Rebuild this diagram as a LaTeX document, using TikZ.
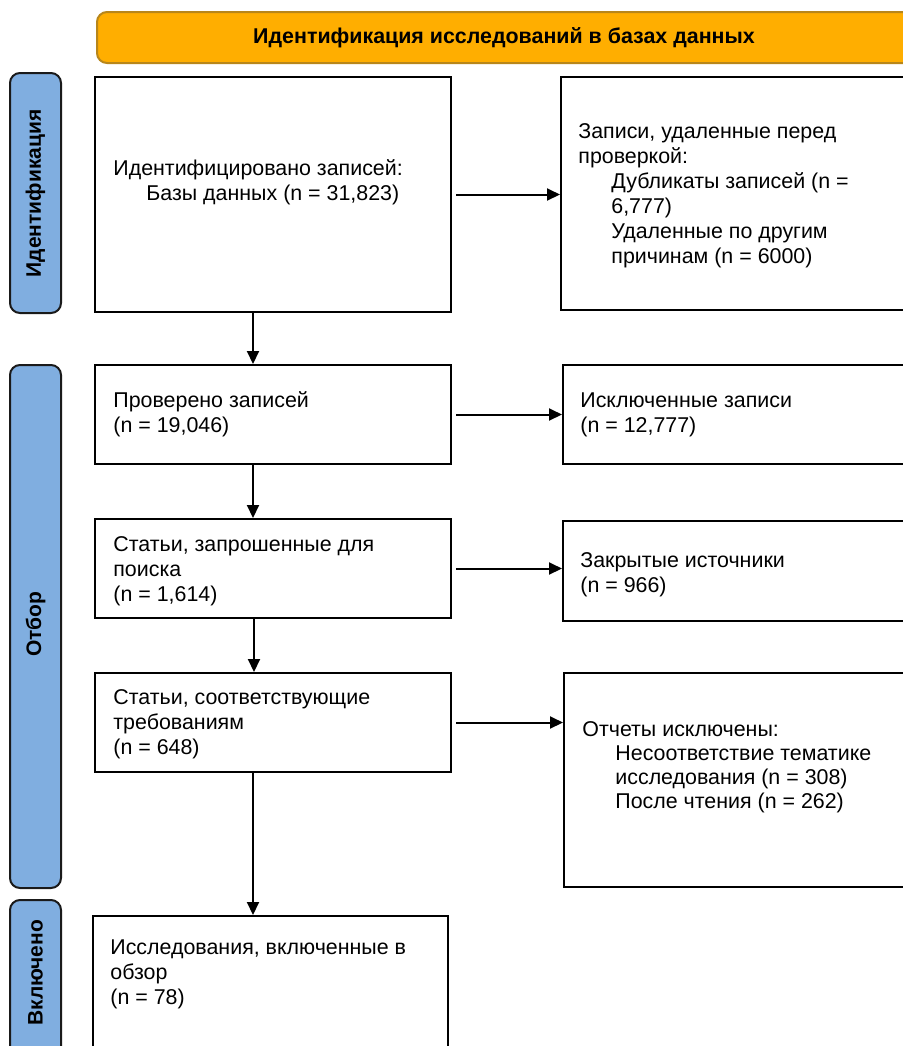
\documentclass[tikz,border=0pt]{standalone}
\usepackage{fontspec}
\setmainfont{Liberation Sans}
\usetikzlibrary{arrows.meta}
\definecolor{banfill}{HTML}{FFAE00}
\definecolor{bandraw}{HTML}{B8861A}
\definecolor{labfill}{HTML}{80AEE0}
\definecolor{labdraw}{HTML}{1A1A1A}
\tikzset{
  box/.style={draw=black, line width=1pt, fill=white, inner sep=0pt, rectangle},
  phase/.style={draw=labdraw, line width=1pt, fill=labfill, rounded corners=5pt, inner sep=0pt, rectangle},
  banner/.style={draw=bandraw, line width=1pt, fill=banfill, rounded corners=5pt, inner sep=0pt, rectangle},
  txt/.style={inner sep=0pt, align=left, anchor=north west, font={\fontsize{10.7}{12.5}\selectfont}},
  phasetxt/.style={inner sep=0pt, rotate=90, font={\fontsize{10.5}{12.5}\selectfont\bfseries}},
  titletxt/.style={inner sep=0pt, font={\fontsize{10.7}{12.5}\selectfont\bfseries}},
  arr/.style={line width=1pt, -{Triangle[length=6.5pt,width=6pt]}}
}
\newcommand\ind{\hspace*{16.5pt}}
\begin{document}
\begin{tikzpicture}[x=0.5pt,y=-0.5pt]
\useasboundingbox (0,0) rectangle (903,1046);
\clip (0,0) rectangle (903,1046);
\fill[white] (0,0) rectangle (903,1046);
% banner
\node[banner, minimum width=409pt, minimum height=25.5pt] (ban) at (506,37.5) {};
\node[titletxt] (title) at (504,37.5) {Идентификация исследований в базах данных};
% phase labels
\node[phase, minimum width=25.5pt, minimum height=120pt] (L1) at (35.5,193) {};
\node[phasetxt] (L1t) at (35.5,193.5) {Идентификация};
\node[phase, minimum width=25.5pt, minimum height=261.5pt] (L2) at (35.5,626.5) {};
\node[phasetxt] (L2t) at (35.5,624) {Отбор};
\node[phase, minimum width=25.5pt, minimum height=85pt] (L3) at (35.5,985) {};
\node[phasetxt] (L3t) at (35.5,973) {Включено};
% boxes
\node[box, minimum width=178pt, minimum height=117.5pt] (b1) at (273,194.5) {};
\node[box, minimum width=177pt, minimum height=116.5pt] (b2) at (738,193.5) {};
\node[box, minimum width=178pt, minimum height=49.5pt] (b3) at (273,414.5) {};
\node[box, minimum width=176pt, minimum height=49.5pt] (b4) at (739,414.5) {};
\node[box, minimum width=178pt, minimum height=49.5pt] (b5) at (273,568.5) {};
\node[box, minimum width=176pt, minimum height=50pt] (b6) at (739,571) {};
\node[box, minimum width=178pt, minimum height=49.5pt] (b7) at (273,722.5) {};
\node[box, minimum width=175.5pt, minimum height=107pt] (b8) at (739.5,780) {};
\node[box, minimum width=177.5pt, minimum height=77pt] (b9) at (270.5,993) {};
% texts
\node[txt] (t1) at (113,157.5) {\strut Идентифицировано записей:\\\ind Базы данных (n = 31,823)};
\node[txt] (t2) at (578,120.5) {\strut Записи, удаленные перед\\проверкой:\\\ind Дубликаты записей (n =\\\ind 6,777)\\\ind Удаленные по другим\\\ind причинам (n = 6000)};
\node[txt] (t3) at (113,389.5) {\strut Проверено записей\\(n = 19,046)};
\node[txt] (t4) at (580,389.5) {\strut Исключенные записи\\(n = 12,777)};
\node[txt] (t5) at (113,533.5) {\strut Статьи, запрошенные для\\поиска\\(n = 1,614)};
\node[txt] (t6) at (580,549.5) {\strut Закрытые источники\\(n = 966)};
\node[txt] (t7) at (113,686.5) {\strut Статьи, соответствующие\\требованиям\\(n = 648)};
\node[txt, font={\fontsize{10.7}{12}\selectfont}] (t8) at (582,719.5) {\strut Отчеты исключены:\\\ind Несоответствие тематике\\\ind исследования (n = 308)\\\ind После чтения (n = 262)};
\node[txt] (t9) at (110,936.5) {\strut Исследования, включенные в\\обзор\\(n = 78)};
% connectors
\draw[arr] ([xshift=2pt]b1.east) -- (b1.east -| b2.west);
\draw[arr] ([xshift=2pt]b3.east) -- (b3.east -| b4.west);
\draw[arr] ([xshift=2pt]b5.east) -- (b5.east -| b6.west);
\draw[arr] ([xshift=2pt]b7.east) -- (b7.east -| b8.west);
\draw[arr] ([xshift=-10pt]b1.south) -- ([xshift=-10pt]b1.south |- b3.north);
\draw[arr] ([xshift=-10pt]b3.south) -- ([xshift=-10pt]b3.south |- b5.north);
\draw[arr] ([xshift=-9.5pt]b5.south) -- ([xshift=-9.5pt]b5.south |- b7.north);
\draw[arr] ([xshift=-10pt]b7.south) -- ([xshift=-10pt]b7.south |- b9.north);
\end{tikzpicture}
\end{document}
